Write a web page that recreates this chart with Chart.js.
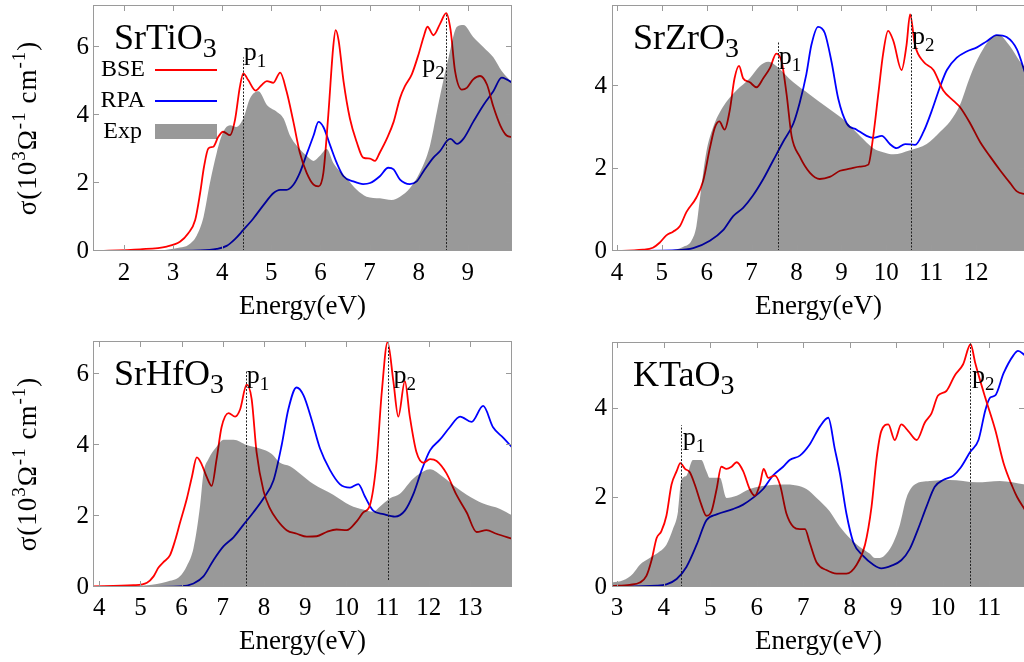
<!DOCTYPE html>
<html>
<head>
<meta charset="utf-8">
<title>Optical conductivity</title>
<script src="https://cdn.jsdelivr.net/npm/chart.js@4.4.1/dist/chart.umd.min.js"></script>
<style>
  html, body { margin: 0; padding: 0; background: #fff; overflow: hidden; }
  body { width: 1024px; height: 662px; position: relative; }
  canvas { position: absolute; }
</style>
</head>
<body>
<canvas id="sto" width="520" height="330" style="left:0;top:0"></canvas>
<canvas id="szo" width="530" height="330" style="left:510px;top:0"></canvas>
<canvas id="sho" width="520" height="330" style="left:0;top:330px"></canvas>
<canvas id="kto" width="530" height="330" style="left:510px;top:330px"></canvas>
<script>
const FONT = '"Liberation Serif", "DejaVu Serif", serif';

// SrTiO3
const stoBseE = [1.37, 2.33, 2.87, 3.14, 3.31, 3.45, 3.55, 3.63, 3.72, 3.82, 3.92, 4.02, 4.16, 4.26, 4.36, 4.43, 4.53, 4.68, 4.80, 4.91, 5.04, 5.18, 5.31, 5.45, 5.58, 5.72, 5.86, 5.96, 6.06, 6.16, 6.26, 6.31, 6.37, 6.47, 6.60, 6.74, 6.87, 7.01, 7.11, 7.21, 7.35, 7.49, 7.62, 7.72, 7.86, 8.00, 8.10, 8.18, 8.30, 8.44, 8.56, 8.65, 8.74, 8.88, 8.98, 9.11, 9.25, 9.39, 9.52, 9.66, 9.79, 9.91];
const stoBse = [0, 0.05, 0.13, 0.27, 0.52, 0.91, 1.7, 2.48, 3.02, 3.07, 3.36, 3.51, 3.41, 3.85, 4.83, 5.23, 5.03, 4.72, 4.88, 5.0, 4.95, 5.25, 4.7, 3.8, 2.9, 2.3, 1.95, 1.9, 2.3, 4.0, 6.0, 6.5, 6.2, 5.0, 3.9, 3.2, 2.75, 2.72, 2.65, 2.9, 3.3, 3.8, 4.5, 4.85, 5.2, 5.8, 6.3, 6.6, 6.35, 6.7, 7.0, 6.5, 5.3, 4.75, 4.8, 5.05, 5.15, 4.9, 4.25, 3.7, 3.4, 3.35];
const stoRpaE = [1.37, 3.55, 3.89, 4.09, 4.26, 4.43, 4.63, 4.84, 5.04, 5.18, 5.31, 5.45, 5.58, 5.72, 5.86, 5.96, 6.06, 6.20, 6.33, 6.47, 6.67, 6.87, 7.01, 7.21, 7.38, 7.49, 7.62, 7.82, 7.96, 8.10, 8.30, 8.44, 8.58, 8.65, 8.78, 8.91, 9.11, 9.32, 9.52, 9.69, 9.79, 9.91];
const stoRpa = [0, 0.02, 0.06, 0.15, 0.35, 0.62, 0.95, 1.35, 1.7, 1.8, 1.8, 1.95, 2.3, 2.85, 3.4, 3.8, 3.65, 3.1, 2.6, 2.2, 2.05, 1.97, 2.0, 2.2, 2.45, 2.4, 2.1, 1.97, 2.05, 2.35, 2.75, 2.95, 3.25, 3.3, 3.15, 3.3, 3.8, 4.3, 4.7, 5.1, 5.05, 4.95];
const stoExpE = [1.37, 2.73, 3.14, 3.31, 3.48, 3.62, 3.75, 3.89, 4.02, 4.16, 4.29, 4.43, 4.57, 4.74, 4.91, 5.11, 5.25, 5.38, 5.58, 5.72, 5.86, 5.99, 6.13, 6.26, 6.53, 6.74, 6.94, 7.21, 7.45, 7.62, 7.82, 8.02, 8.23, 8.37, 8.50, 8.61, 8.78, 8.91, 9.11, 9.32, 9.52, 9.69, 9.91];
const stoExp = [0, 0.02, 0.1, 0.18, 0.45, 1.0, 2.0, 2.9, 3.5, 3.7, 3.65, 3.9, 4.5, 4.7, 4.3, 4.1, 3.9, 3.4, 3.0, 2.8, 2.65, 2.8, 3.0, 2.6, 2.15, 1.8, 1.6, 1.55, 1.5, 1.6, 1.85, 2.3, 3.1, 4.1, 5.0, 5.7, 6.6, 6.65, 6.3, 6.0, 5.7, 5.3, 4.95];
const stoPeakE = [4.42, 8.55];
const stoPeakTop = [5.7, 7.0];

// SrZrO3
const szoBseE = [3.89, 4.58, 4.80, 4.95, 5.10, 5.25, 5.40, 5.55, 5.77, 5.92, 6.07, 6.18, 6.28, 6.40, 6.51, 6.62, 6.72, 6.81, 6.96, 7.11, 7.26, 7.41, 7.55, 7.67, 7.78, 7.89, 8.07, 8.30, 8.52, 8.74, 8.97, 9.19, 9.41, 9.60, 9.71, 9.82, 9.93, 10.04, 10.16, 10.34, 10.45, 10.53, 10.64, 10.83, 11.05, 11.27, 11.50, 11.64, 11.87, 12.09, 12.31, 12.53, 12.76, 12.91, 13.10];
const szoBse = [0, 0.03, 0.08, 0.2, 0.38, 0.47, 0.6, 0.95, 1.3, 1.7, 2.5, 3.0, 3.15, 2.95, 3.4, 4.2, 4.5, 4.2, 4.1, 3.98, 4.2, 4.45, 4.8, 4.6, 3.8, 2.8, 2.3, 1.9, 1.75, 1.8, 1.95, 2.0, 2.05, 2.1, 2.8, 3.8, 4.8, 5.35, 5.1, 4.4, 5.0, 5.75, 5.0, 4.6, 4.4, 3.9, 3.65, 3.5, 3.1, 2.65, 2.3, 1.97, 1.65, 1.45, 1.38];
const szoRpaE = [3.89, 5.32, 5.70, 6.07, 6.36, 6.59, 6.81, 7.03, 7.26, 7.48, 7.70, 7.93, 8.07, 8.22, 8.33, 8.48, 8.63, 8.78, 8.93, 9.12, 9.34, 9.56, 9.71, 9.90, 10.08, 10.23, 10.42, 10.64, 10.83, 11.01, 11.20, 11.35, 11.57, 11.79, 12.02, 12.24, 12.46, 12.68, 12.91, 13.10];
const szoRpa = [0, 0.02, 0.07, 0.25, 0.5, 0.85, 1.05, 1.35, 1.75, 2.2, 2.65, 3.1, 3.6, 4.3, 5.0, 5.45, 5.3, 4.6, 3.7, 3.1, 2.95, 2.8, 2.75, 2.8, 2.6, 2.5, 2.6, 2.58, 2.9, 3.4, 4.0, 4.4, 4.7, 4.85, 4.95, 5.1, 5.25, 5.2, 4.9, 4.3];
const szoExpE = [3.89, 5.17, 5.47, 5.66, 5.77, 5.84, 5.99, 6.14, 6.36, 6.66, 6.96, 7.18, 7.37, 7.55, 7.93, 8.30, 8.67, 9.04, 9.41, 9.71, 9.93, 10.16, 10.53, 10.90, 11.20, 11.42, 11.64, 11.87, 12.09, 12.31, 12.50, 12.76, 12.98, 13.10];
const szoExp = [0, 0.02, 0.1, 0.25, 0.6, 1.2, 2.4, 3.0, 3.5, 3.9, 4.2, 4.5, 4.6, 4.5, 4.1, 3.8, 3.5, 3.2, 2.8, 2.5, 2.4, 2.35, 2.45, 2.6, 2.9, 3.15, 3.55, 4.25, 4.78, 5.14, 5.25, 4.97, 4.6, 4.45];
const szoPeakE = [7.58, 10.55];
const szoPeakTop = [5.08, 5.75];

// SrHfO3
const shoBseE = [3.85, 4.83, 5.16, 5.32, 5.44, 5.56, 5.72, 5.84, 5.96, 6.13, 6.25, 6.37, 6.49, 6.61, 6.73, 6.85, 6.97, 7.14, 7.30, 7.42, 7.58, 7.70, 7.82, 7.99, 8.15, 8.31, 8.55, 8.80, 9.04, 9.28, 9.52, 9.76, 10.01, 10.25, 10.41, 10.57, 10.73, 10.86, 11.00, 11.14, 11.26, 11.42, 11.54, 11.70, 11.87, 12.03, 12.19, 12.43, 12.67, 12.92, 13.16, 13.40, 13.64, 14.05];
const shoBse = [0.02, 0.05, 0.12, 0.3, 0.55, 0.7, 0.9, 1.3, 1.8, 2.5, 3.1, 3.65, 3.45, 3.1, 2.85, 3.6, 4.5, 4.9, 4.8, 5.0, 5.7, 5.3, 3.8, 2.7, 2.2, 1.9, 1.6, 1.5, 1.42, 1.43, 1.55, 1.62, 1.6, 1.85, 2.1, 2.3, 3.5, 5.5, 6.9, 5.8, 4.8, 5.8, 4.8, 3.8, 3.5, 3.6, 3.55, 3.2, 2.6, 2.1, 1.55, 1.6, 1.5, 1.35];
const shoRpaE = [3.85, 5.96, 6.29, 6.53, 6.77, 7.02, 7.26, 7.50, 7.74, 7.99, 8.23, 8.43, 8.59, 8.79, 8.96, 9.16, 9.36, 9.60, 9.84, 10.09, 10.29, 10.45, 10.65, 10.90, 11.18, 11.42, 11.62, 11.83, 12.03, 12.27, 12.51, 12.76, 13.04, 13.32, 13.56, 13.81, 14.05];
const shoRpa = [0, 0.02, 0.1, 0.3, 0.75, 1.15, 1.4, 1.75, 2.1, 2.5, 3.0, 4.0, 5.0, 5.62, 5.4, 4.7, 3.9, 3.3, 2.9, 2.8, 2.9, 2.55, 2.15, 2.05, 1.98, 2.15, 2.6, 3.3, 3.85, 4.15, 4.5, 4.8, 4.65, 5.1, 4.5, 4.2, 3.9];
const shoExpE = [3.85, 5.16, 5.64, 5.96, 6.13, 6.29, 6.45, 6.53, 6.65, 6.85, 7.02, 7.26, 7.58, 7.90, 8.19, 8.39, 8.63, 8.87, 9.20, 9.68, 10.09, 10.41, 10.65, 10.81, 11.06, 11.30, 11.62, 11.95, 12.03, 12.35, 12.67, 12.92, 13.32, 13.73, 14.05];
const shoExp = [0, 0.05, 0.15, 0.3, 0.6, 1.1, 2.3, 3.2, 3.6, 3.95, 4.15, 4.15, 4.0, 3.9, 3.75, 3.5, 3.4, 3.2, 2.9, 2.6, 2.3, 2.18, 2.12, 2.26, 2.5, 2.63, 3.05, 3.3, 3.32, 3.1, 2.8, 2.6, 2.35, 2.2, 2.0];
const shoPeakE = [7.56, 11.0];
const shoPeakTop = [6.1, 6.9];

// KTaO3
const ktoBseE = [2.89, 3.27, 3.49, 3.63, 3.74, 3.85, 3.95, 4.06, 4.17, 4.28, 4.36, 4.46, 4.56, 4.67, 4.81, 4.92, 5.03, 5.14, 5.24, 5.35, 5.46, 5.57, 5.71, 5.85, 5.96, 6.07, 6.15, 6.25, 6.39, 6.50, 6.64, 6.79, 6.93, 7.04, 7.14, 7.29, 7.50, 7.72, 7.93, 8.15, 8.33, 8.47, 8.58, 8.68, 8.83, 8.97, 9.11, 9.26, 9.44, 9.62, 9.76, 9.90, 10.08, 10.26, 10.44, 10.60, 10.70, 10.91, 11.13, 11.31, 11.50, 11.60, 11.77];
const ktoBse = [0.02, 0.05, 0.1, 0.25, 0.6, 1.1, 1.25, 1.6, 2.3, 2.6, 2.78, 2.65, 2.58, 2.3, 1.85, 1.6, 1.7, 2.2, 2.7, 2.65, 2.7, 2.8, 2.6, 2.2, 2.05, 2.3, 2.65, 2.45, 2.5, 2.3, 1.65, 1.35, 1.3, 1.3, 1.0, 0.55, 0.38, 0.3, 0.3, 0.5, 0.95, 1.8, 2.9, 3.5, 3.65, 3.3, 3.65, 3.5, 3.3, 3.7, 3.9, 4.3, 4.4, 4.75, 5.0, 5.45, 5.03, 4.27, 3.53, 2.78, 2.25, 2.02, 1.73];
const ktoRpaE = [2.89, 3.85, 4.06, 4.28, 4.49, 4.71, 4.92, 5.14, 5.49, 5.71, 5.92, 6.14, 6.35, 6.57, 6.71, 6.93, 7.14, 7.36, 7.54, 7.68, 7.79, 7.93, 8.08, 8.29, 8.51, 8.68, 8.90, 9.11, 9.29, 9.47, 9.65, 9.83, 10.01, 10.23, 10.38, 10.59, 10.77, 10.92, 11.02, 11.13, 11.31, 11.52, 11.62, 11.77];
const ktoRpa = [0.01, 0.03, 0.06, 0.18, 0.45, 0.95, 1.5, 1.63, 1.75, 1.85, 2.0, 2.2, 2.5, 2.7, 2.85, 2.95, 3.2, 3.6, 3.8, 3.1, 2.55, 1.65, 1.0, 0.7, 0.5, 0.42, 0.48, 0.6, 0.85, 1.3, 1.8, 2.25, 2.4, 2.5, 2.67, 3.03, 3.3, 3.98, 4.25, 4.3, 4.8, 5.2, 5.3, 5.2];
const ktoExpE = [2.89, 3.13, 3.34, 3.49, 3.70, 3.92, 4.06, 4.20, 4.31, 4.38, 4.49, 4.63, 4.81, 4.92, 4.99, 5.21, 5.35, 5.57, 5.85, 6.21, 6.57, 6.86, 7.07, 7.29, 7.57, 7.79, 8.00, 8.22, 8.43, 8.54, 8.65, 8.79, 8.94, 9.08, 9.22, 9.40, 9.72, 10.15, 10.73, 11.23, 11.77];
const ktoExp = [0.1, 0.15, 0.3, 0.5, 0.65, 0.8, 0.95, 1.3, 1.7, 2.4, 2.5, 2.85, 2.85, 2.6, 2.45, 2.45, 2.0, 2.05, 2.2, 2.28, 2.3, 2.28, 2.2, 2.0, 1.7, 1.35, 1.1, 0.9, 0.75, 0.65, 0.65, 0.75, 1.0, 1.4, 2.0, 2.3, 2.38, 2.4, 2.35, 2.38, 2.3];
const ktoPeakE = [4.37, 10.59];
const ktoPeakTop = [3.63, 5.48];

const legendNames = ['BSE', 'RPA', 'Exp'];
const colors = ['#ff0000', '#0000ff', 'rgba(0,0,0,0.4)'];

function series(es, vs) {
  return es.map((e, i) => ({ x: e, y: vs[i] }));
}

// draw text pieces with sub/superscripts: [text, size, dy]
function rich(ctx, parts, x, y, align) {
  ctx.textAlign = 'left';
  let w = 0;
  parts.forEach(p => { ctx.font = p[1] + 'px ' + FONT; w += ctx.measureText(p[0]).width; });
  let cx = align === 'right' ? x - w : align === 'center' ? x - w / 2 : x;
  parts.forEach(p => {
    ctx.font = p[1] + 'px ' + FONT;
    ctx.fillText(p[0], cx, y + (p[2] || 0));
    cx += ctx.measureText(p[0]).width;
  });
}

function makeDecor(c) {
  return {
    id: 'decor',
    afterDatasetsDraw(chart) {
      const { ctx, scales: { x, y } } = chart;
      ctx.save();
      ctx.strokeStyle = '#222';
      ctx.lineWidth = 1;
      ctx.setLineDash([2, 1.5]);
      c.pE.forEach((e, i) => {
        const px = Math.round(x.getPixelForValue(e)) + 0.5;
        ctx.beginPath();
        ctx.moveTo(px, y.getPixelForValue(0));
        ctx.lineTo(px, y.getPixelForValue(c.pTop[i]));
        ctx.stroke();
      });
      ctx.restore();
    },
    afterDraw(chart) {
      const { ctx, chartArea: a, scales: { x, y } } = chart;
      ctx.save();
      // frame with inward ticks
      ctx.strokeStyle = '#9a9a9a';
      ctx.lineWidth = 1;
      ctx.strokeRect(a.left + 0.5, a.top + 0.5, a.right - a.left - 1, a.bottom - a.top - 1);
      ctx.beginPath();
      x.ticks.forEach(t => {
        const px = Math.round(x.getPixelForValue(t.value)) + 0.5;
        ctx.moveTo(px, a.top); ctx.lineTo(px, a.top + 6);
        ctx.moveTo(px, a.bottom); ctx.lineTo(px, a.bottom - 6);
      });
      y.ticks.forEach(t => {
        const py = Math.round(y.getPixelForValue(t.value)) - 0.5;
        ctx.moveTo(a.left, py); ctx.lineTo(a.left + 6, py);
        ctx.moveTo(a.right, py); ctx.lineTo(a.right - 6, py);
      });
      ctx.stroke();

      ctx.fillStyle = '#000';
      ctx.textBaseline = 'alphabetic';
      rich(ctx, [[c.name, 36], [c.sub, 28, 8]], a.left + 21, a.top + 44, 'left');

      c.pLab.forEach((L, i) => {
        const px = x.getPixelForValue(c.pE[i]) + L.dx;
        rich(ctx, [['p', 26], [String(i + 1), 19, 7]], px, y.getPixelForValue(L.v), L.align);
      });

      if (c.legend) {
        ctx.textBaseline = 'middle';
        legendNames.forEach((name, i) => {
          const cy = a.top + 65 + i * 31;
          ctx.font = '24px ' + FONT;
          ctx.textAlign = 'right';
          ctx.fillStyle = '#000';
          ctx.fillText(name, a.left + 52 - (i === 2 ? 3 : 0), cy);
          if (i < 2) {
            ctx.strokeStyle = colors[i];
            ctx.lineWidth = 1.8;
            ctx.beginPath();
            ctx.moveTo(a.left + 62, cy);
            ctx.lineTo(a.left + 124, cy);
            ctx.stroke();
          } else {
            ctx.fillStyle = colors[i];
            ctx.fillRect(a.left + 62, cy - 8, 62, 15);
          }
        });
      }

      if (c.yTitle) {
        ctx.fillStyle = '#000';
        ctx.textBaseline = 'alphabetic';
        ctx.translate(36, (a.top + a.bottom) / 2);
        ctx.rotate(-Math.PI / 2);
        ctx.letterSpacing = '1px';
        rich(ctx, [['σ(10', 27], ['3', 19, -11], ['Ω', 27], ['-1', 19, -11], [' cm', 27], ['-1', 19, -11], [')', 27]], 0, 0, 'center');
      }
      ctx.restore();
    }
  };
}

function makeChart(c) {
  const ds = (i, es, vs, extra) => Object.assign({
    label: legendNames[i],
    data: series(es, vs),
    borderColor: colors[i],
    borderWidth: 1.8,
    pointRadius: 0,
    cubicInterpolationMode: 'monotone',
    fill: false,
    order: 1
  }, extra || {});
  const tickFont = { family: FONT, size: 25 };
  new Chart(document.getElementById(c.id), {
    type: 'line',
    data: {
      datasets: [
        ds(0, c.bseE, c.bse),
        ds(1, c.rpaE, c.rpa),
        ds(2, c.expE, c.exp, { borderColor: 'rgba(0,0,0,0)', backgroundColor: colors[2], fill: 'origin', order: 0 })
      ]
    },
    options: {
      responsive: false,
      animation: false,
      events: [],
      layout: { padding: { top: c.top, right: c.right, left: 0, bottom: 0 } },
      plugins: { legend: { display: false }, tooltip: { enabled: false } },
      scales: {
        x: {
          type: 'linear', min: c.xMin, max: c.xMax,
          grid: { display: false, drawTicks: false },
          border: { display: false },
          ticks: { stepSize: 1, includeBounds: false, padding: c.xPad, color: '#000', font: tickFont, maxRotation: 0 },
          title: { display: true, text: 'Energy(eV)', color: '#000', font: { family: FONT, size: 27 }, padding: { top: 0, bottom: c.titlePad } },
          afterBuildTicks: s => { s.ticks = s.ticks.filter(t => t.value <= c.xLast); },
          afterFit: s => { s.height = c.xH; s.paddingLeft = 0; s.paddingRight = 0; }
        },
        y: {
          min: 0, max: c.yMax,
          grid: { display: false, drawTicks: false },
          border: { display: false },
          ticks: { stepSize: 2, includeBounds: false, padding: c.yPad, color: '#000', font: tickFont },
          afterFit: s => { s.width = c.yW; s.paddingTop = 0; s.paddingBottom = 0; }
        }
      }
    },
    plugins: [makeDecor(c)]
  });
}

makeChart({
  id: 'sto', name: 'SrTiO', sub: '3',
  bseE: stoBseE, bse: stoBse, rpaE: stoRpaE, rpa: stoRpa, expE: stoExpE, exp: stoExp,
  pE: stoPeakE, pTop: stoPeakTop,
  pLab: [{ dx: 1, v: 5.62, align: 'left' }, { dx: -1, v: 5.26, align: 'right' }],
  xMin: 1.37, xMax: 9.9, xLast: 9, yMax: 7.24,
  top: 5, right: 8, yW: 93, xH: 79, xPad: 7, yPad: 4, titlePad: 7,
  legend: true, yTitle: true
});
makeChart({
  id: 'szo', name: 'SrZrO', sub: '3',
  bseE: szoBseE, bse: szoBse, rpaE: szoRpaE, rpa: szoRpa, expE: szoExpE, exp: szoExp,
  pE: szoPeakE, pTop: szoPeakTop,
  pLab: [{ dx: 1, v: 4.54, align: 'left' }, { dx: 1, v: 5.03, align: 'left' }],
  xMin: 3.89, xMax: 13.09, xLast: 12, yMax: 5.98,
  top: 5, right: 15, yW: 102, xH: 79, xPad: 7, yPad: 5, titlePad: 7,
  legend: false, yTitle: false
});
makeChart({
  id: 'sho', name: 'SrHfO', sub: '3',
  bseE: shoBseE, bse: shoBse, rpaE: shoRpaE, rpa: shoRpa, expE: shoExpE, exp: shoExp,
  pE: shoPeakE, pTop: shoPeakTop,
  pLab: [{ dx: 1, v: 5.74, align: 'left' }, { dx: 6, v: 5.74, align: 'left' }],
  xMin: 3.85, xMax: 14.02, xLast: 13, yMax: 6.93,
  top: 11, right: 8, yW: 93, xH: 73, xPad: 6, yPad: 4, titlePad: 2,
  legend: false, yTitle: true
});
makeChart({
  id: 'kto', name: 'KTaO', sub: '3',
  bseE: ktoBseE, bse: ktoBse, rpaE: ktoRpaE, rpa: ktoRpa, expE: ktoExpE, exp: ktoExp,
  pE: ktoPeakE, pTop: ktoPeakTop,
  pLab: [{ dx: 2, v: 3.19, align: 'left' }, { dx: 2, v: 4.58, align: 'left' }],
  xMin: 2.89, xMax: 11.77, xLast: 11, yMax: 5.5,
  top: 12, right: 15, yW: 102, xH: 73, xPad: 6, yPad: 5, titlePad: 2,
  legend: false, yTitle: false
});
</script>
</body>
</html>
